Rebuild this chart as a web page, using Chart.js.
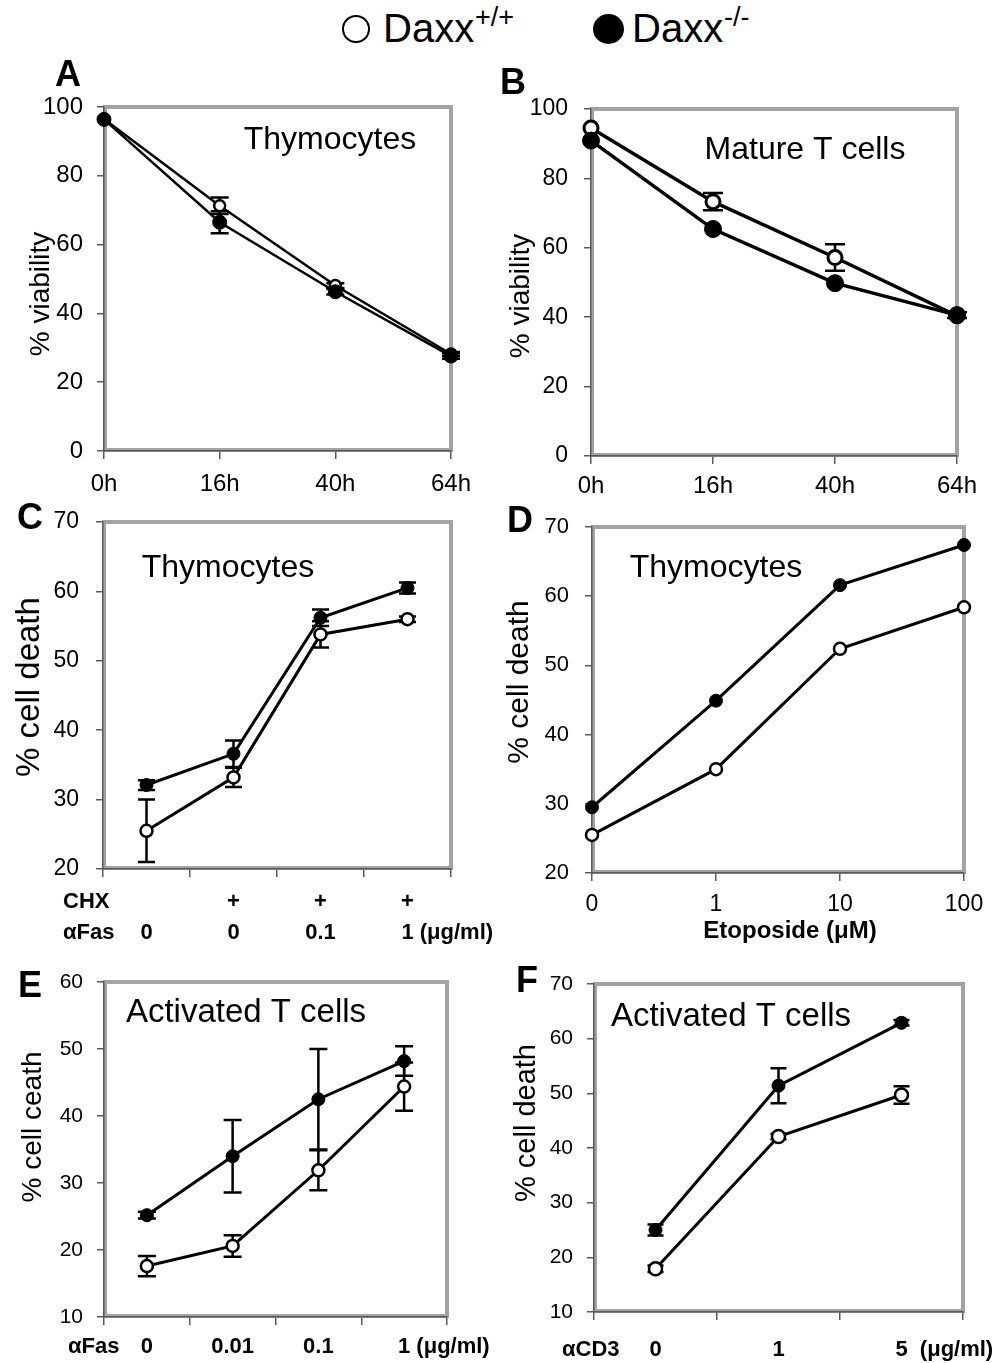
<!DOCTYPE html>
<html>
<head>
<meta charset="utf-8">
<script src="https://cdn.jsdelivr.net/npm/chart.js@4.4.0/dist/chart.umd.min.js"></script>
<style>
  html, body { margin: 0; padding: 0; background: #fff; }
  #page { position: relative; width: 1006px; height: 1363px; overflow: hidden;
          font-family: 'Liberation Sans', Arial, sans-serif; color: #000; }
  #page canvas { position: absolute; left: 0; top: 0; pointer-events: none; }
  .mk { position: absolute; border-radius: 50%; box-sizing: border-box; }
  .mk.open { left: 342px; top: 15px; width: 28px; height: 28px; border: 2px solid #000; background: #fff; }
  .mk.fill { left: 593px; top: 14px; width: 31px; height: 30px; background: #000; }
  .key { position: absolute; top: 8px; font-size: 40px; line-height: 40px; white-space: nowrap; }
  .sup { position: absolute; top: 4px; font-size: 27px; line-height: 27px; white-space: nowrap; }
</style>
</head>
<body>
<div id="page">
  <span class="mk open"></span>
  <span class="key" style="left:383px">Daxx</span><span class="sup" style="left:475px">+/+</span>
  <span class="mk fill"></span>
  <span class="key" style="left:632px">Daxx</span><span class="sup" style="left:724px">-/-</span>
  <canvas id="cA" width="1006" height="1363"></canvas>
  <canvas id="cB" width="1006" height="1363"></canvas>
  <canvas id="cC" width="1006" height="1363"></canvas>
  <canvas id="cD" width="1006" height="1363"></canvas>
  <canvas id="cE" width="1006" height="1363"></canvas>
  <canvas id="cF" width="1006" height="1363"></canvas>
</div>
<script>
// ── DATA ──
const hourLabels = ['0h', '16h', '40h', '64h'];

// A: thymocytes, % viability
const aWT = [96.5, 71.3, 48.1, 28.2];
const aWTErr = [0, 2.4, 0.7, 0.6];
const aKO = [96.4, 66.5, 46.3, 27.6];
const aKOErr = [0, 3.2, 0.8, 0.8];

// B: mature T cells, % viability
const bWT = [94.5, 73.3, 57.2, 40.4];
const bWTErr = [0, 2.5, 3.8, 0];
const bKO = [90.9, 65.4, 49.8, 40.6];
const bKOErr = [0, 0, 0, 0.8];

// C: thymocytes, CHX + anti-Fas
const cCHX = ['', '+', '+', '+'];
const cFas = ['0', '0', '0.1', '1'];
const cWT = [25.5, 33.2, 53.8, 56.0];
const cWTErr = [4.5, 1.4, 1.9, 0.4];
const cKO = [32.1, 36.6, 56.2, 60.5];
const cKOErr = [0.7, 1.9, 1.2, 0.8];

// D: thymocytes, etoposide
const etoLabels = ['0', '1', '10', '100'];
const dWT = [25.5, 35.0, 52.4, 58.4];
const dKO = [29.5, 44.9, 61.6, 67.4];

// E: activated T cells, anti-Fas
const eFas = ['0', '0.01', '0.1', '1'];
const eWT = [17.6, 20.6, 31.9, 44.4];
const eWTErr = [1.5, 1.6, 3.0, 3.6];
const eKO = [25.2, 34.0, 42.5, 48.2];
const eKOErr = [0.5, 5.4, 7.5, 2.2];

// F: activated T cells, anti-CD3
const fCD3 = ['0', '1', '5'];
const fWT = [17.9, 42.1, 49.7];
const fWTErr = [0.6, 0.5, 1.6];
const fKO = [25.0, 51.4, 62.9];
const fKOErr = [1.0, 3.2, 0.5];

// ── STYLE ──
const FONT = "'Liberation Sans', Arial, sans-serif";
const AXIS = '#5a5a5a';
const FRAME = '#a3a3a3';
const W = 1006, H = 1363;
const YW = 80;

// grey box round the plot area (under the axes)
const frame = {
    id: 'frame',
    beforeDraw(chart) {
        const a = chart.chartArea, ctx = chart.ctx;
        ctx.save();
        ctx.strokeStyle = FRAME;
        ctx.lineWidth = 4;
        ctx.strokeRect(a.left + 1, a.top, a.right - a.left - 1, a.bottom - a.top - 1);
        ctx.restore();
    }
};

// ── ERROR BARS ──
const errorBars = {
    id: 'errorBars',
    beforeDatasetsDraw(chart, args, opts) {
        const ctx = chart.ctx, y = chart.scales.y;
        const c = opts.cap || 8;
        ctx.save();
        ctx.strokeStyle = '#000';
        ctx.lineWidth = opts.width || 2.5;
        chart.data.datasets.forEach((ds, di) => {
            if (!ds.errors) return;
            chart.getDatasetMeta(di).data.forEach((pt, i) => {
                const e = ds.errors[i];
                if (!e) return;
                const yt = y.getPixelForValue(ds.data[i] + e);
                const yb = y.getPixelForValue(ds.data[i] - e);
                ctx.beginPath();
                ctx.moveTo(pt.x, yt); ctx.lineTo(pt.x, yb);
                ctx.moveTo(pt.x - c, yt); ctx.lineTo(pt.x + c, yt);
                ctx.moveTo(pt.x - c, yb); ctx.lineTo(pt.x + c, yb);
                ctx.stroke();
            });
        });
        ctx.restore();
    }
};

// ── TEXT: letters, titles, axis names, category rows ──
const notes = {
    id: 'notes',
    afterDraw(chart, args, opts) {
        const ctx = chart.ctx;
        ctx.save();
        ctx.fillStyle = '#000';
        ctx.textBaseline = 'middle';
        (opts.items || []).forEach(it => {
            ctx.save();
            ctx.font = it.font + ' ' + FONT;
            ctx.textAlign = it.align || 'center';
            ctx.translate(it.x, it.y);
            if (it.rot) ctx.rotate(-Math.PI / 2);
            ctx.fillText(it.t, 0, 0);
            ctx.restore();
        });
        if (opts.rows) {
            const xs = chart.scales.x, base = chart.chartArea.bottom;
            ctx.font = opts.rowFont + ' ' + FONT;
            opts.rows.forEach(r => {
                const y = base + r.dy;
                ctx.textAlign = 'left';
                ctx.fillText(r.head, r.headX, y);
                r.labels.forEach((lab, i) => {
                    const x = xs.getPixelForValue(i);
                    if (r.suffix && i === r.labels.length - 1) {
                        ctx.textAlign = 'left';
                        ctx.fillText(lab + r.suffix, x - ctx.measureText(lab).width / 2, y);
                    } else {
                        ctx.textAlign = 'center';
                        ctx.fillText(lab, x, y);
                    }
                });
            });
        }
        ctx.restore();
    }
};

Chart.register(frame, errorBars, notes);

function panel(id, o) {
    const b = o.box;
    const xh = o.xh || 60;
    return new Chart(document.getElementById(id), {
        type: 'line',
        data: {
            labels: o.labels,
            datasets: [{
                label: 'Daxx-/-',
                data: o.ko,
                errors: o.koErr,
                borderColor: '#000',
                borderWidth: o.lw,
                pointRadius: o.rFill,
                pointBackgroundColor: '#000',
                pointBorderColor: '#000',
                pointBorderWidth: 1,
                tension: 0
            }, {
                label: 'Daxx+/+',
                data: o.wt,
                errors: o.wtErr,
                borderColor: '#000',
                borderWidth: o.lw,
                pointRadius: o.rOpen,
                pointBackgroundColor: '#fff',
                pointBorderColor: '#000',
                pointBorderWidth: o.openBW,
                tension: 0
            }]
        },
        options: {
            responsive: false,
            animation: false,
            devicePixelRatio: 1,
            layout: { padding: { left: b.l - YW, top: b.t, right: W - b.r, bottom: H - b.b - xh } },
            scales: {
                x: {
                    type: 'category',
                    offset: o.offset,
                    grid: { offset: o.offset, drawOnChartArea: false, tickLength: 8, color: AXIS, lineWidth: 1.5 },
                    border: { color: AXIS, width: 1.5 },
                    ticks: { display: !o.rows, color: '#000', font: { family: FONT, size: o.xSize || 24 },
                              padding: o.xPad || 10, maxRotation: 0, autoSkip: false },
                    afterFit: s => { s.height = xh; }
                },
                y: {
                    min: o.yMin, max: o.yMax,
                    ticks: { stepSize: o.yStep, color: '#000', font: { family: FONT, size: o.ySize }, padding: o.yPad },
                    grid: { drawOnChartArea: false, tickLength: 7, color: AXIS, lineWidth: 1.5 },
                    border: { color: AXIS, width: 1.5 },
                    afterFit: s => { s.width = YW; }
                }
            },
            plugins: {
                legend: { display: false },
                tooltip: { enabled: false },
                errorBars: { cap: o.cap, width: 2.5 },
                notes: { items: o.notes, rows: o.rows, rowFont: 'bold 22px' }
            }
        }
    });
}

// ── PANELS ──
panel('cA', {
    box: { l: 104, t: 107, r: 451, b: 451 }, labels: hourLabels, offset: false,
    wt: aWT, wtErr: aWTErr, ko: aKO, koErr: aKOErr,
    yMin: 0, yMax: 100, yStep: 20, ySize: 24, yPad: 14, xSize: 24, xPad: 11,
    lw: 2.5, rFill: 7, rOpen: 5.5, openBW: 2.5, cap: 9,
    notes: [
        { t: 'A', x: 68, y: 76, font: 'bold 36px' },
        { t: 'Thymocytes', x: 330, y: 140, font: '32px' },
        { t: '% viability', x: 41, y: 294, font: '28px', rot: true }
    ]
});

panel('cB', {
    box: { l: 591, t: 109, r: 957, b: 456 }, labels: hourLabels, offset: false,
    wt: bWT, wtErr: bWTErr, ko: bKO, koErr: bKOErr,
    yMin: 0, yMax: 100, yStep: 20, ySize: 23, yPad: 16, xSize: 24, xPad: 8,
    lw: 3.5, rFill: 8.5, rOpen: 7, openBW: 3, cap: 10,
    notes: [
        { t: 'B', x: 513, y: 84, font: 'bold 36px' },
        { t: 'Mature T cells', x: 805, y: 150, font: '32px' },
        { t: '% viability', x: 521, y: 296, font: '28px', rot: true }
    ]
});

panel('cC', {
    box: { l: 103, t: 522, r: 451, b: 869 }, labels: cFas, offset: true,
    wt: cWT, wtErr: cWTErr, ko: cKO, koErr: cKOErr,
    yMin: 20, yMax: 70, yStep: 10, ySize: 23, yPad: 17,
    lw: 3, rFill: 6.5, rOpen: 6, openBW: 2.5, cap: 8.5,
    rows: [
        { head: 'CHX', headX: 63, dy: 33, labels: cCHX },
        { head: 'αFas', headX: 63, dy: 64, labels: cFas, suffix: ' (μg/ml)' }
    ],
    notes: [
        { t: 'C', x: 30, y: 519, font: 'bold 36px' },
        { t: 'Thymocytes', x: 228, y: 568, font: '32px' },
        { t: '% cell death', x: 30, y: 687, font: '33px', rot: true }
    ]
});

panel('cD', {
    box: { l: 592, t: 527, r: 964, b: 873 }, labels: etoLabels, offset: false,
    wt: dWT, wtErr: null, ko: dKO, koErr: null,
    yMin: 20, yMax: 70, yStep: 10, ySize: 22, yPad: 16, xSize: 23, xPad: 10,
    lw: 3, rFill: 6.5, rOpen: 6, openBW: 2.5, cap: 8,
    notes: [
        { t: 'D', x: 520, y: 522, font: 'bold 36px' },
        { t: 'Thymocytes', x: 716, y: 568, font: '32px' },
        { t: '% cell death', x: 520, y: 682, font: '30px', rot: true },
        { t: 'Etoposide (μM)', x: 790, y: 931, font: 'bold 24px' }
    ]
});

panel('cE', {
    box: { l: 104, t: 982, r: 447, b: 1317 }, labels: eFas, offset: true, xh: 40,
    wt: eWT, wtErr: eWTErr, ko: eKO, koErr: eKOErr,
    yMin: 10, yMax: 60, yStep: 10, ySize: 21, yPad: 14,
    lw: 3, rFill: 6.5, rOpen: 6, openBW: 2.5, cap: 9,
    rows: [
        { head: 'αFas', headX: 68, dy: 30, labels: eFas, suffix: ' (μg/ml)' }
    ],
    notes: [
        { t: 'E', x: 30, y: 987, font: 'bold 36px' },
        { t: 'Activated T cells', x: 246, y: 1013, font: '33px' },
        { t: '% cell ceath', x: 33, y: 1127, font: '28px', rot: true }
    ]
});

panel('cF', {
    box: { l: 594, t: 984, r: 963, b: 1312 }, labels: fCD3, offset: true, xh: 40,
    wt: fWT, wtErr: fWTErr, ko: fKO, koErr: fKOErr,
    yMin: 10, yMax: 70, yStep: 10, ySize: 21, yPad: 14,
    lw: 3, rFill: 6.5, rOpen: 6.5, openBW: 2.5, cap: 8,
    rows: [
        { head: 'αCD3', headX: 562, dy: 38, labels: fCD3, suffix: '  (μg/ml)' }
    ],
    notes: [
        { t: 'F', x: 527, y: 982, font: 'bold 36px' },
        { t: 'Activated T cells', x: 731, y: 1017, font: '33px' },
        { t: '% cell death', x: 527, y: 1123, font: '29px', rot: true }
    ]
});
</script>
</body>
</html>
